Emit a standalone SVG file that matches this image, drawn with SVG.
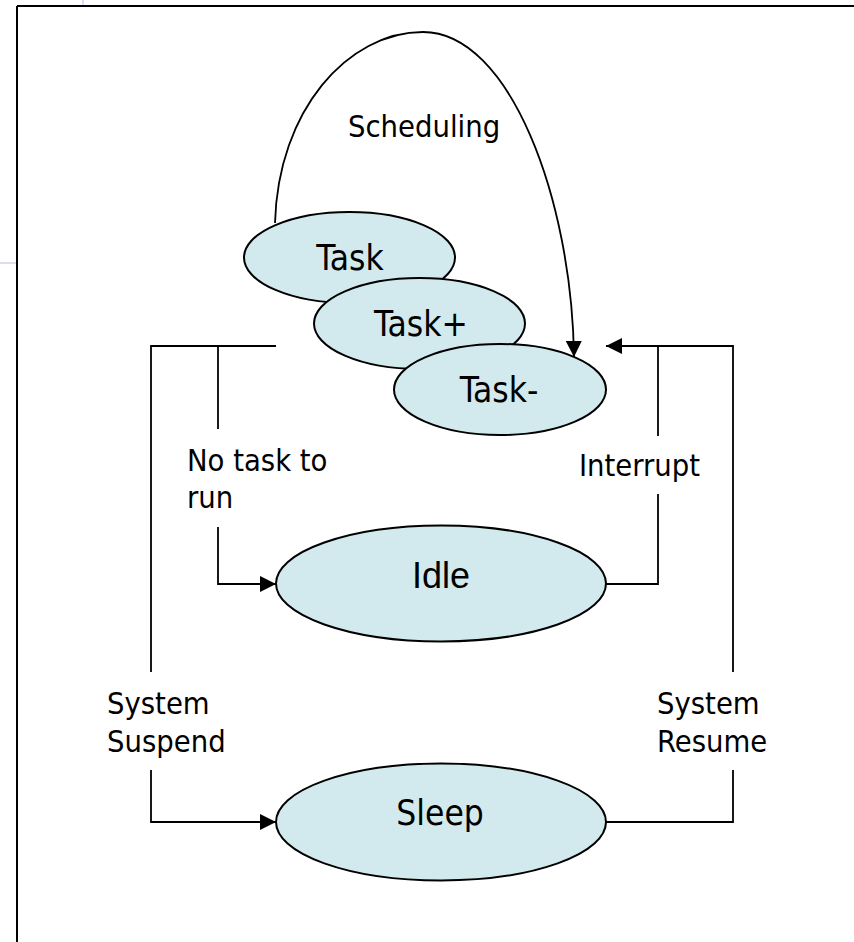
<svg xmlns="http://www.w3.org/2000/svg" width="854" height="942" viewBox="0 0 854 942">
<style>
.node{fill:#d2eaed;stroke:#000;stroke-width:2}
.lbl{font-family:"DejaVu Sans Condensed","DejaVu Sans",sans-serif;font-stretch:condensed;font-size:30.6px;fill:#000}
.nt{font-family:"DejaVu Sans Condensed","DejaVu Sans",sans-serif;font-stretch:condensed;font-size:35px;fill:#000;text-anchor:middle}
.conn{fill:none;stroke:#000;stroke-width:1.8}
</style>
<defs>
<marker id="arr" markerUnits="userSpaceOnUse" markerWidth="18" markerHeight="16" refX="16" refY="8" orient="auto">
<path d="M0,0 L16,8 L0,16 Z" fill="#000"/>
</marker>
</defs>
<rect width="854" height="942" fill="#fff"/>
<line x1="83" y1="0" x2="83" y2="5" stroke="#dcdcf2" stroke-width="2"/>
<line x1="0" y1="263" x2="16" y2="263" stroke="#dcdcf2" stroke-width="2"/>
<line x1="17" y1="6" x2="854" y2="6" stroke="#000" stroke-width="2"/>
<line x1="17" y1="6" x2="17" y2="942" stroke="#000" stroke-width="2"/>
<g id="connectors">
<path class="conn" d="M275,223 C278,110 348,32 423,32 C510,32 572,200 574,357" marker-end="url(#arr)"/>
<polyline class="conn" points="276,346 151,346 151,672"/>
<polyline class="conn" points="151,770 151,822 276,822" marker-end="url(#arr)"/>
<line class="conn" x1="218" y1="346" x2="218" y2="429"/>
<polyline class="conn" points="218,527 218,584 276,584" marker-end="url(#arr)"/>
<polyline class="conn" points="733,672 733,346 606,346" marker-end="url(#arr)"/>
<line class="conn" x1="658" y1="346" x2="658" y2="436"/>
<polyline class="conn" points="606,584 658,584 658,494"/>
<polyline class="conn" points="606,822 733,822 733,770"/>
<text class="lbl" x="348" y="137">Scheduling</text>
<text class="lbl" x="187" y="471">No task to</text>
<text class="lbl" x="187" y="508">run</text>
<text class="lbl" x="579" y="476">Interrupt</text>
<text class="lbl" x="107" y="714">System</text>
<text class="lbl" x="107" y="752">Suspend</text>
<text class="lbl" x="657" y="714">System</text>
<text class="lbl" x="657" y="752">Resume</text>
</g>
<g id="task">
<ellipse class="node" cx="349.5" cy="257.5" rx="105.5" ry="45.5"/>
<text class="nt" x="350" y="270">Task</text>
</g>
<g id="task-plus">
<ellipse class="node" cx="419.5" cy="323.5" rx="105.5" ry="45.5"/>
<text class="nt" x="421" y="336">Task+</text>
</g>
<g id="task-minus">
<ellipse class="node" cx="500" cy="389.5" rx="106" ry="45.5"/>
<text class="nt" x="499" y="402">Task-</text>
</g>
<g id="idle">
<ellipse class="node" cx="441" cy="583.5" rx="165" ry="58"/>
<text x="441" y="588" font-family="Liberation Sans, Arial, sans-serif" font-size="36" text-anchor="middle">Idle</text>
</g>
<g id="sleep">
<ellipse class="node" cx="441" cy="822" rx="165" ry="58.5"/>
<text class="nt" x="440" y="825">Sleep</text>
</g>
</svg>
